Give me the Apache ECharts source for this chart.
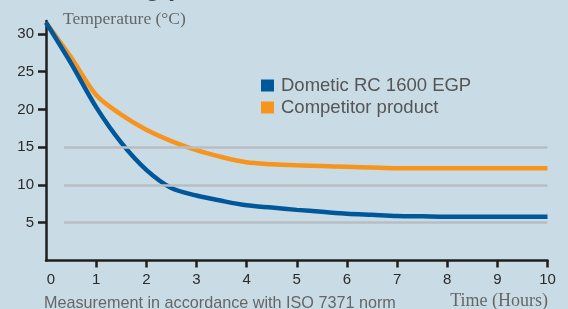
<!DOCTYPE html>
<html>
<head>
<meta charset="utf-8">
<script src="https://cdn.jsdelivr.net/npm/echarts@6/dist/echarts.min.js"></script>
<style>
html,body{margin:0;padding:0;background:#c9dce5;}
#c{width:568px;height:309px;}
</style>
</head>
<body>
<div id="c"></div>
<script>
var hours      = [0, 0.5, 1, 1.5, 2, 2.5, 3, 3.5, 4, 4.5, 5, 5.5, 6, 6.5, 7, 7.5, 8, 8.5, 9, 9.5, 10];
var dometic    = [31.5, 26.1, 20.3, 15.6, 12.0, 9.6, 8.6, 7.9, 7.3, 7.0, 6.7, 6.45, 6.2, 6.05, 5.9, 5.85, 5.8, 5.8, 5.8, 5.8, 5.8];
var competitor = [31.5, 26.9, 21.9, 19.3, 17.3, 15.8, 14.6, 13.7, 13.0, 12.75, 12.6, 12.5, 12.4, 12.3, 12.2, 12.2, 12.2, 12.2, 12.2, 12.2, 12.2];
var seriesNames = ['Dometic RC 1600 EGP', 'Competitor product'];
var yTickLabels = [5, 10, 15, 20, 25, 30];
var xTickLabels = [0, 1, 2, 3, 4, 5, 6, 7, 8, 9, 10];
var gridValues  = [5, 10, 15];
var gridStart   = 0.36;

function pairs(xs, ys){ return xs.map(function(x,i){ return [x, ys[i]]; }); }

var chart = echarts.init(document.getElementById('c'));
var axisColor = '#1e1e1e';
var labelFont = {color: '#2a2a2a', fontSize: 15, fontFamily: 'Liberation Sans, Arial'};
chart.setOption({
  backgroundColor: '#c9dce5',
  animation: false,
  grid: {left: 46, right: 20.5, top: 21, bottom: 48.5, containLabel: false},
  xAxis: {
    type: 'value', min: 0, max: 10, interval: 1,
    axisLine: {show: true, lineStyle: {color: axisColor, width: 2.5}},
    axisTick: {show: true, length: 7, lineStyle: {color: axisColor, width: 2.5}, customValues: xTickLabels.slice(1)},
    axisLabel: {
      color: '#2a2a2a', fontSize: 15, fontFamily: 'Liberation Sans, Arial', margin: 12, customValues: xTickLabels,
      formatter: function(v){ return v === 0 ? '{z|0}' : String(v); },
      rich: {z: Object.assign({padding: [0, 0, 0, 10]}, labelFont)}
    },
    splitLine: {show: false}
  },
  yAxis: {
    type: 'value', min: 0, max: 31.7, interval: 5,
    axisLine: {show: true, onZero: false, lineStyle: {color: axisColor, width: 2.5}},
    axisTick: {show: true, length: 8, lineStyle: {color: axisColor, width: 2.5}, customValues: yTickLabels},
    axisLabel: {color: '#2a2a2a', fontSize: 15, fontFamily: 'Liberation Sans, Arial', margin: 12, customValues: yTickLabels},
    splitLine: {show: false}
  },
  legend: {
    orient: 'vertical', left: 256, top: 71, itemWidth: 13, itemHeight: 12, itemGap: 3,
    icon: 'rect',
    textStyle: {color: '#555', fontSize: 18.5, fontFamily: 'Liberation Sans, Arial', padding: [0,0,0,2]},
    data: seriesNames
  },
  series: [
    {
      name: 'grid', type: 'line', data: [], silent: true,
      markLine: {
        silent: true, symbol: 'none', label: {show: false},
        lineStyle: {color: '#b8bdc2', width: 2.5, type: 'solid'},
        data: gridValues.map(function(v){ return [{coord: [gridStart, v]}, {coord: [10, v]}]; })
      }
    },
    {
      name: seriesNames[1], type: 'line', smooth: 0.3, showSymbol: false,
      data: pairs(hours, competitor),
      lineStyle: {color: '#f7941e', width: 4.5}, itemStyle: {color: '#f7941e'}
    },
    {
      name: seriesNames[0], type: 'line', smooth: 0.3, showSymbol: false,
      data: pairs(hours, dometic),
      lineStyle: {color: '#00589b', width: 4.5}, itemStyle: {color: '#00589b'}
    }
  ],
  graphic: [
    {type: 'text', x: 64, y: 2, style: {text: 'Cooling performance', fontSize: 26, fontWeight: 'bold', fontFamily: 'Liberation Sans, Arial', fill: '#444', align: 'left', verticalAlign: 'bottom'}},
    {type: 'text', left: 63, top: 10, style: {text: 'Temperature (°C)', fontSize: 17.5, fontFamily: 'Liberation Serif, Times New Roman, serif', fill: '#666'}},
    {type: 'text', left: 44, top: 296, style: {text: 'Measurement in accordance with ISO 7371 norm', fontSize: 16.2, fontFamily: 'Liberation Sans, Arial', fill: '#666'}},
    {type: 'text', right: 20, top: 292, style: {text: 'Time (Hours)', fontSize: 18, fontFamily: 'Liberation Serif, Times New Roman, serif', fill: '#666'}}
  ]
});
</script>
</body>
</html>
